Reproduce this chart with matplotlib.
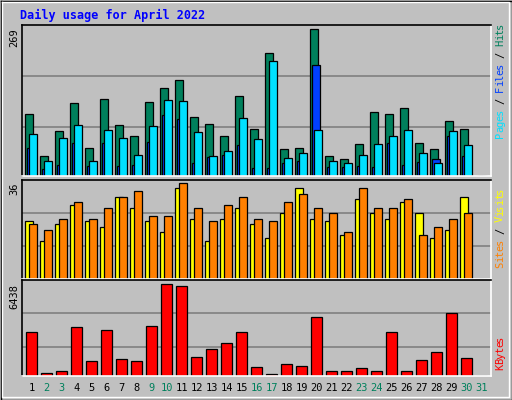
import matplotlib
matplotlib.use("Agg")
import matplotlib.pyplot as plt
from matplotlib.patches import Rectangle
import numpy as np

days = list(range(1, 32))
hits = [113,36,82,133,52,141,93,73,135,162,176,109,96,73,146,86,225,49,52,269,36,31,58,117,113,124,60,49,100,86,0]
files = [52,12,21,60,19,60,19,21,63,111,104,23,34,38,56,14,14,23,27,203,16,16,19,16,61,21,26,31,73,36,0]
pages = [77,27,69,93,27,84,69,38,91,139,137,80,36,45,107,67,211,33,42,84,27,23,38,58,73,84,42,23,82,56,0]
sites = [21,14,20,27,21,19,30,26,21,17,33,22,14,22,26,20,15,24,33,22,21,16,29,24,22,28,24,15,18,30,0]
visits = [20,18,22,28,22,26,30,32,23,23,35,26,21,27,30,22,21,28,31,26,24,17,33,26,26,29,16,19,22,24,0]
kbytes = [3112,234,374,3463,1076,3252,1217,1076,3533,6438,6295,1357,1872,2340,3112,655,164,866,725,4095,374,374,585,374,3112,374,1147,1708,4376,1287,0]
weekend = [2,3,9,10,16,17,23,24,30,31]
title = "Daily usage for April 2022"

W, H = 512, 400
BG = "#C0C0C0"
fig = plt.figure(figsize=(W/100, H/100), dpi=100, facecolor=BG)

def fx(x): return x / W
def fy(y): return 1 - y / H

# figure border
for (x0, y0, x1, y1, c) in [(0.5, 0.5, 511.5, 399.5, "black"), (2, 2, 509, 397, "white")]:
    fig.add_artist(plt.Line2D([fx(x0), fx(x1), fx(x1), fx(x0), fx(x0)],
                              [fy(y0), fy(y0), fy(y1), fy(y1), fy(y0)],
                              color=c, lw=1, transform=fig.transFigure))

def mkax(top, bot):
    ax = fig.add_axes([fx(22), fy(bot), fx(491) - fx(22), (bot - top) / H])
    ax.set_facecolor(BG)
    ax.set_xlim(0.78, 32.05)
    ax.set_xticks([]); ax.set_yticks([])
    ax.spines["top"].set_color("black"); ax.spines["left"].set_color("black")
    ax.spines["bottom"].set_color("white"); ax.spines["right"].set_color("white")
    for s in ax.spines.values(): s.set_linewidth(1.2)
    return ax

d = np.array(days, dtype=float)
ekw = dict(edgecolor="black", linewidth=0.9, align="edge")

ax1 = mkax(25, 176)
ax1.set_ylim(0, 276.9)
for g in (89.3, 182.8): ax1.axhline(g, color="#808080", lw=1.2, zorder=0)
ax1.bar(d, hits, 0.49, color="#00805C", **ekw)
ax1.bar(d + 0.133, files, 0.49, color="#0040FF", **ekw)
ax1.bar(d + 0.267, pages, 0.49, color="#00E0FF", **ekw)

ax2 = mkax(180, 279)
ax2.set_ylim(0, 36)
for g in (12, 24): ax2.axhline(g, color="#808080", lw=1.2, zorder=0)
ax2.bar(d, sites, 0.53, color="#FFFF00", **ekw)
ax2.bar(d + 0.267, visits, 0.49, color="#FF8000", **ekw)

ax3 = mkax(280, 376)
ax3.set_ylim(0, 6719)
for g in (2064, 4381): ax3.axhline(g, color="#808080", lw=1.2, zorder=0)
ax3.bar(d + 0.067, kbytes, 0.686, color="#FF0000", **ekw)

mono = "DejaVu Sans Mono"
fig.text(fx(20), fy(15), title, color="#0000FF", fontsize=8.5, fontweight="bold",
         family=mono, va="center", ha="left")

for lab, ytop in [("269", 28), ("36", 182), ("6438", 284)]:
    fig.text(fx(14), fy(ytop), lab, rotation=90, fontsize=7.5, family=mono,
             va="top", ha="center", color="black")

for i, day in enumerate(days):
    xc = 25.3 + 15 * i + 6.2
    fig.text(fx(xc), fy(388), str(day), fontsize=7.5, family=mono, ha="center", va="center",
             color="#00805C" if day in weekend else "black")

def vlabel(pieces, ybot, x=500, step=5.75):
    y = ybot
    for txt, col in pieces:
        for ch in txt:
            if ch != " ":
                fig.text(fx(x), fy(y - step / 2), ch, rotation=90, fontsize=7.5, family=mono,
                         color=col, ha="center", va="center")
            y -= step

vlabel([("Pages", "#00E0FF"), (" / ", "black"), ("Files", "#0040FF"), (" / ", "black"), ("Hits", "#00805C")], 138)
vlabel([("Sites", "#FF8000"), (" / ", "black"), ("Visits", "#FFFF00")], 268)
vlabel([("KBytes", "#FF0000")], 370)

fig.savefig("out.png", dpi=100, facecolor=BG)
